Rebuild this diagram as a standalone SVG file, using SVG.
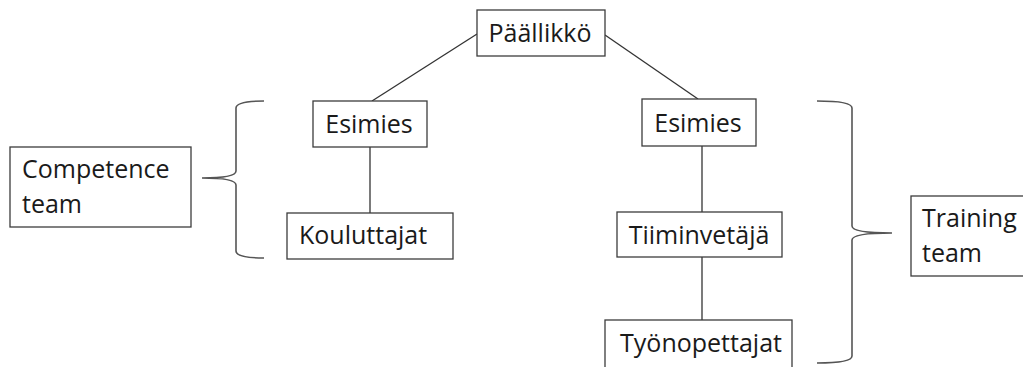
<svg xmlns="http://www.w3.org/2000/svg" width="1023" height="367" viewBox="0 0 1023 367">
  <style>
    .box { fill: #ffffff; stroke: #3c3c3c; stroke-width: 1.3; }
    .lbl { font-family: "Open Sans", "Noto Sans", "Liberation Sans", sans-serif; font-size: 25px; fill: #1a1a1a; }
    .mid { text-anchor: middle; }
    .conn { stroke: #333333; stroke-width: 1.3; fill: none; }
    .brace { stroke: #555555; stroke-width: 1.6; fill: none; }
  </style>
  <rect x="0" y="0" width="1023" height="367" fill="#ffffff"/>
  <g id="connectors">
    <line class="conn" x1="477" y1="34" x2="372" y2="101"/>
    <line class="conn" x1="605" y1="35" x2="698" y2="99"/>
    <line class="conn" x1="370" y1="147" x2="370" y2="213"/>
    <line class="conn" x1="702" y1="146" x2="702" y2="212"/>
    <line class="conn" x1="702" y1="257" x2="702" y2="320"/>
    <path class="brace" d="M264,101 Q236,101 236,108 L236,171 Q236,178 202,178 Q236,178 236,185 L236,251 Q236,258 264,258"/>
    <path class="brace" d="M817,101 Q852,101 852,108 L852,226 Q852,233 892,233 Q852,233 852,240 L852,356 Q852,363 817,363"/>
  </g>
  <g id="paallikko">
    <rect class="box" x="477" y="10" width="128" height="46"/>
    <text class="lbl mid" x="540" y="42">Päällikkö</text>
  </g>
  <g id="esimies-left">
    <rect class="box" x="313" y="101" width="114" height="46"/>
    <text class="lbl mid" x="369" y="133">Esimies</text>
  </g>
  <g id="kouluttajat">
    <rect class="box" x="287" y="213" width="166" height="46"/>
    <text class="lbl" x="299" y="244">Kouluttajat</text>
  </g>
  <g id="esimies-right">
    <rect class="box" x="642" y="99" width="114" height="47"/>
    <text class="lbl mid" x="698" y="132">Esimies</text>
  </g>
  <g id="tiiminvetaja">
    <rect class="box" x="617" y="212" width="165" height="45"/>
    <text class="lbl mid" x="699" y="244">Tiiminvetäjä</text>
  </g>
  <g id="tyonopettajat">
    <rect class="box" x="605" y="320" width="187" height="60"/>
    <text class="lbl mid" x="701" y="352">Työnopettajat</text>
  </g>
  <g id="competence-team">
    <rect class="box" x="10" y="147" width="181" height="80"/>
    <text class="lbl" x="22" y="178">Competence</text>
    <text class="lbl" x="22" y="213">team</text>
  </g>
  <g id="training-team">
    <rect class="box" x="911" y="196" width="120" height="80"/>
    <text class="lbl" x="922" y="227">Training</text>
    <text class="lbl" x="922" y="262">team</text>
  </g>
</svg>
